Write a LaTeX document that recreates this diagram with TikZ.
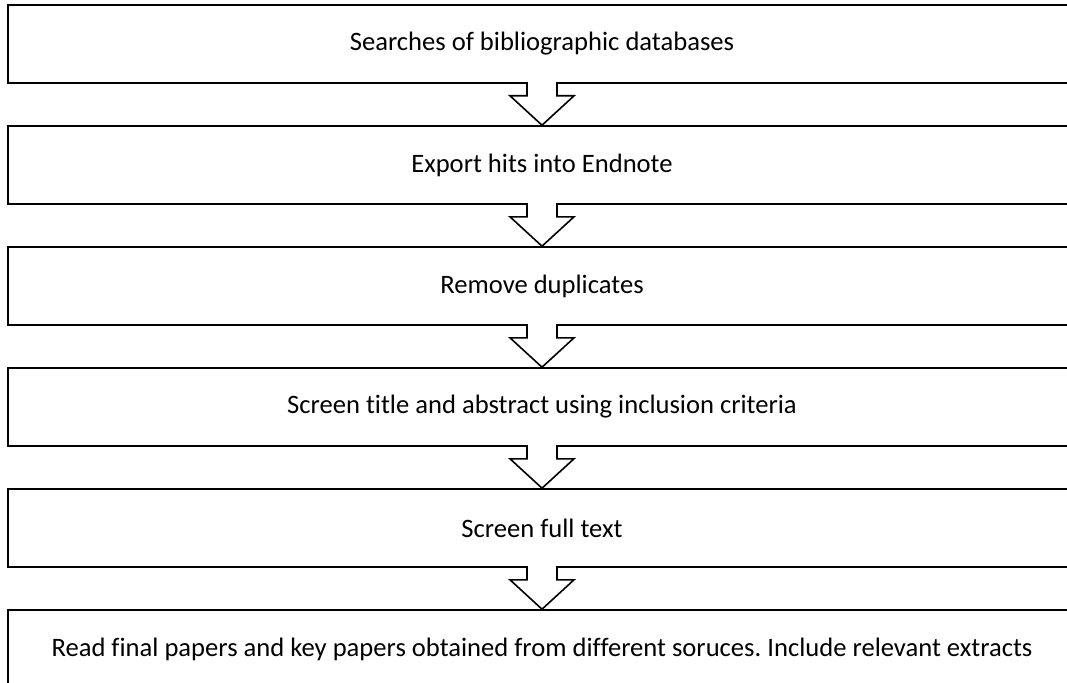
\documentclass[tikz,border=0pt]{standalone}
\usepackage{fontspec}
\setmainfont{Carlito}[Ligatures=NoCommon]
\frenchspacing

\tikzset{
	stagebox/.style={draw, line width=1.6pt, minimum width=1068pt, minimum height=78pt, inner sep=0pt, font=\fontsize{26.6}{32}\selectfont},
	stagearrow/.style={draw, fill=white, line width=1.6pt, line join=miter}
}

% hollow block arrow from the bottom of one box to the top of the next
\newcommand{\flowarrow}[2]{%
	\draw[stagearrow] ([xshift=-15pt,yshift=1.6pt]#1.south) -- ++(0,-13.6pt) -- ++(-17pt,0) -- (#2.north)
		-- ([xshift=32pt,yshift=-12pt]#1.south) -- ++(-17pt,0) -- ([xshift=15pt,yshift=1.6pt]#1.south);
}

\begin{document}
\begin{tikzpicture}
		\useasboundingbox (0,0) rectangle (1067pt,-682pt);
		\clip (0,0) rectangle (1067pt,-682pt);
		
		\node[stagebox] (search) at (542pt,-44pt) {Searches of bibliographic databases};
		\node[stagebox] (export) at (542pt,-165pt) {Export hits into Endnote};
		\node[stagebox] (dedup) at (542pt,-286pt) {Remove duplicates};
		\node[stagebox] (screen) at (542pt,-407pt) {Screen title and abstract using inclusion criteria};
		\node[stagebox] (fulltext) at (542pt,-528pt) {Screen full text};
		\node[stagebox] (read) at (542pt,-649pt) {Read final papers and key papers obtained from different soruces. Include relevant extracts};
		
		\flowarrow{search}{export}
		\flowarrow{export}{dedup}
		\flowarrow{dedup}{screen}
		\flowarrow{screen}{fulltext}
		\flowarrow{fulltext}{read}
		
	\end{tikzpicture}
\end{document}
